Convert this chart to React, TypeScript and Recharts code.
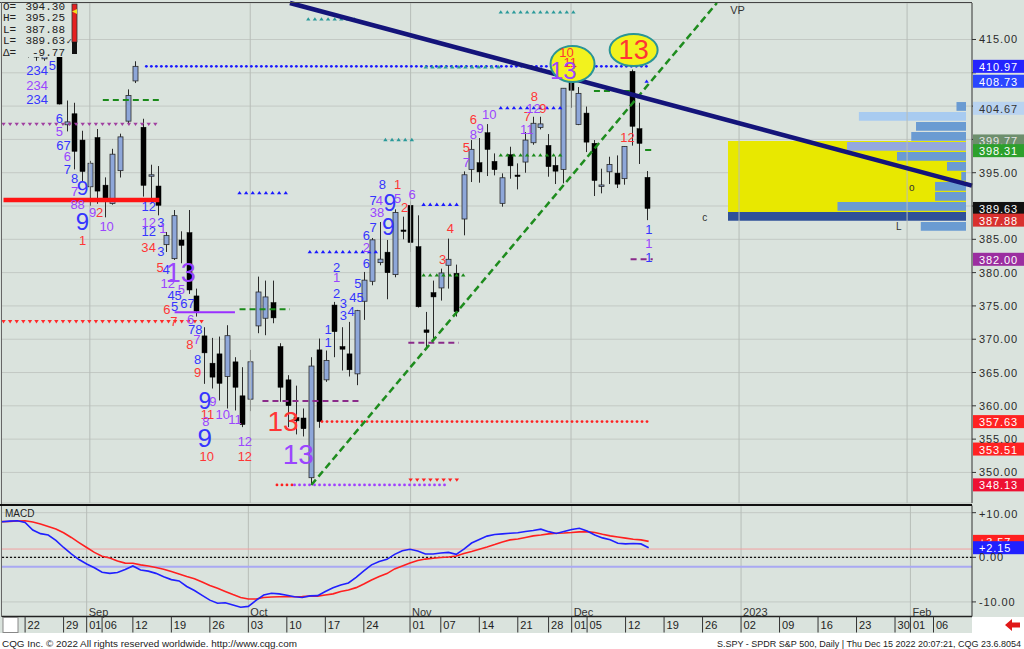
import { Bar, CartesianGrid, ComposedChart, Line, ReferenceArea, ReferenceDot, ReferenceLine, XAxis, YAxis } from 'recharts'

// day index: 0 = Sep 1 2022, negatives are late August, > 73 are future weekdays
const FIRST_INDEX = -11
const LAST_INDEX = 115
const CANDLE_START = -8 // Aug 22

const opens = [
  417.05, 412.9, 412.1, 415.24, 419.39, 402.2, 403.85, 399.9,
  392.89, 400.28, 393.13, 390.37, 395.31, 402.74, 408.78, 401.83, 394.47, 393.0,
  384.2, 382.1, 384.9, 386.0, 376.5, 370.5, 366.4, 367.8, 364.4, 366.6, 361.5,
  361.0, 372.0, 373.15, 375.5, 368.9, 363.9, 358.24, 358.17, 349.21, 368.4,
  363.9, 375.13, 368.9, 367.8, 364.8, 375.7, 378.7, 381.5, 383.07, 379.7, 386.4,
  390.1, 383.9, 371.4, 377.0, 377.7, 381.1, 379.9, 388.05, 395.5, 396.5, 401.0, 396.7, 390.4, 397.7, 394.65, 396.6, 399.5, 401.8, 399.1, 396.1, 395.5,
  408.77, 402.25, 403.95, 399.42, 392.94, 395.14, 394.94, 394.11, 410.22, 401.61, 394.3,
]
const highs = [
  417.2, 415.0, 415.1, 419.56, 419.96, 405.84, 405.5, 401.3,
  396.78, 401.56, 394.3, 398.59, 400.86, 407.51, 411.73, 403.1, 396.2, 396.0,
  386.1, 389.4, 386.2, 389.4, 377.6, 371.8, 370.2, 370.4, 372.1, 367.3, 365.8,
  368.4, 379.4, 378.8, 378.8, 369.4, 364.6, 363.03, 359.6, 367.3, 370.1,
  368.3, 375.6, 371.8, 372.6, 374.4, 380.1, 385.2, 387.6, 384.9, 389.5, 388.4,
  390.7, 388.6, 374.1, 378.8, 380.6, 385.1, 381.2, 395.2, 399.9, 400.2, 402.3, 397.9, 394.9, 398.9, 396.4, 401.1, 403.4, 403.4, 400.8, 397.4, 407.7,
  410.0, 407.86, 404.93, 399.9, 395.6, 397.4, 397.6, 399.0, 410.49, 405.5, 395.25,
]
const lows = [
  412.3, 411.8, 411.8, 413.9, 405.25, 401.2, 395.5, 393.6,
  390.04, 390.33, 388.3, 390.2, 394.28, 402.46, 408.46, 391.41, 390.4, 388.6,
  383.1, 381.9, 381.4, 376.8, 373.4, 363.3, 362.6, 360.8, 359.6, 359.3, 356.8,
  359.2, 370.9, 370.6, 372.4, 360.6, 356.8, 355.71, 355.4, 348.11, 356.7,
  363.6, 367.3, 365.3, 364.4, 363.1, 372.9, 378.1, 381.1, 376.0, 379.3, 385.0,
  383.1, 374.76, 368.79, 370.1, 375.8, 377.6, 373.4, 385.6, 393.6, 393.5, 394.5, 394.6, 389.9, 394.1, 392.5, 395.0, 399.2, 401.5, 394.4, 393.3, 393.4,
  404.75, 402.14, 398.1, 391.5, 391.9, 393.3, 392.7, 393.2, 399.07, 396.31, 387.88,
]
const closes = [
  413.35, 412.35, 413.67, 419.51, 405.31, 402.63, 398.21, 395.18,
  396.42, 392.24, 390.76, 397.78, 400.38, 406.6, 410.97, 393.1, 394.69, 390.1,
  385.56, 388.55, 384.09, 377.39, 374.22, 367.95, 364.31, 363.38, 370.53, 362.79, 357.18,
  366.61, 377.09, 376.35, 373.2, 362.79, 360.02, 357.74, 356.56, 365.97, 357.63,
  366.82, 371.13, 368.5, 365.41, 374.29, 378.87, 384.92, 382.02, 379.98, 389.02, 386.21,
  384.52, 374.87, 371.01, 376.35, 379.95, 382.0, 374.13, 394.69, 398.51, 395.12, 398.49, 395.45, 394.24, 396.03, 394.59, 399.9, 402.42, 402.33, 395.91, 395.23, 407.68,
  407.38, 406.91, 399.59, 393.83, 393.16, 396.24, 393.28, 398.95, 401.97, 399.4, 389.63,
]

// MACD pane, starting Aug 17
const macdLine = [
  7.98, 8.1, 8.2, 7.8, 6.1, 5.3, 5.0, 3.8, 2.2, 0.75, -0.5,
  -1.5, -2.35, -3.35, -3.6, -3.4, -2.75, -1.95, -2.85, -3.1, -3.6, -4.35, -5.0, -5.3, -6.55, -7.45, -8.55, -9.6, -10.3, -10.2, -10.7, -11.2,
  -11.0, -9.65, -8.45, -8.05, -8.2, -8.5, -8.85, -9.0, -8.65, -8.6, -7.65, -6.85, -6.2, -5.75, -4.5, -3.05, -1.7, -0.95, -0.45, 0.65, 1.45,
  1.8, 1.4, 0.75, 0.75, 0.95, 1.1, 0.65, 1.85, 3.2, 4.0, 4.75, 5.1, 5.25, 5.4, 5.5, 5.8, 6.0, 6.3, 5.75, 5.35, 5.8,
  6.25, 6.5, 5.9, 5.0, 4.35, 3.95, 3.15, 3.0, 3.1, 3.0, 2.15,
]
const signalLine = [
  8.0, 8.05, 8.15, 8.2, 7.9, 7.45, 6.9, 6.35, 5.5, 4.45, 3.3,
  2.2, 1.1, 0.25, -0.15, -0.85, -1.3, -1.35, -1.7, -1.95, -2.3, -2.7, -3.2, -3.75, -4.3, -4.8, -5.55, -6.3, -6.95, -7.65, -8.35, -9.0,
  -9.35, -9.35, -9.0, -8.9, -8.85, -8.85, -8.85, -8.8, -8.7, -8.7, -8.45, -8.2, -7.65, -7.35, -6.8, -6.0, -5.1, -4.3, -3.65, -2.6, -1.95,
  -1.3, -0.7, -0.4, -0.2, -0.05, 0.05, 0.3, 0.85, 1.3, 1.8, 2.3, 2.85, 3.45, 3.9, 4.1, 4.45, 4.8, 5.0, 5.25, 5.4, 5.45,
  5.55, 5.7, 5.75, 5.55, 5.15, 4.8, 4.55, 4.3, 4.05, 3.9, 3.57,
]

const dateTicks = [-8, -3, 0, 2, 6, 11, 16, 21, 26, 31, 36, 42, 46, 51, 56, 60, 63, 65, 70, 75, 80, 85, 90, 95, 100, 105, 107, 110]
const dateLabels = ['22', '29', '01', '06', '12', '19', '26', '03', '10', '17', '24', '01', '07', '14', '21', '28', '01', '05', '12', '19', '26', '02', '09', '16', '23', '30', '01', '06']
const monthStarts = [0, 21, 42, 63, 85, 107]
const monthNames = ['Sep', 'Oct', 'Nov', 'Dec', '2023', 'Feb']

const priceTicks = [350, 355, 360, 365, 370, 375, 380, 385, 390, 395, 400, 405, 410, 415]
const macdTicks = [-10, -5, 0, 5, 10]

// volume profile bins (price centre) and relative volume
const vpPrices = [386.95, 388.45, 389.95, 391.45, 392.95, 394.45, 395.95, 397.45, 398.95, 400.45, 401.95, 403.45, 404.95]
const vpVolumes = [19, 100, 54, 13, 13, 2, 8, 29, 50, 23, 21, 45, 4]

const B = '#3535ff'
const P = '#9b45ff'
const R = '#ff3535'

// TD sequential counts: [day index, price, text, colour, font size]
const tdMarks: [number, number, string, string, number][] = [
  [-6.9, 410.42, '234', B, 13], [-4.9, 411.17, '5', B, 13], [-6.9, 408.02, '234', P, 13], [-6.9, 405.92, '234', B, 13],
  [-4.0, 403.21, '6', B, 13], [-4.0, 401.26, '5', P, 13], [-3.45, 399.16, '67', B, 13], [-2.93, 397.36, '6', P, 13],
  [-2.93, 395.41, '7', B, 13], [-2.0, 394.2, '8', B, 13], [-0.96, 392.85, '9', B, 21], [-2.0, 392.25, '7', P, 13],
  [-1.6, 390.3, '88', P, 13], [-0.96, 387.6, '9', B, 24], [0.35, 389.1, '9', P, 13], [1.27, 389.1, '2', R, 13],
  [2.2, 386.85, '10', P, 13], [-0.96, 384.75, '1', R, 13],
  [7.7, 390.0, '12', B, 13], [7.7, 387.45, '12', P, 13], [9.3, 387.45, '3', B, 13], [7.7, 386.1, '12', B, 13], [9.55, 386.55, '1', P, 13],
  [7.2, 383.7, '3', R, 13], [8.2, 383.7, '4', R, 13], [9.3, 383.2, '3', B, 13], [9.2, 380.7, '5', R, 13], [10.0, 380.4, '4', B, 13],
  [11.9, 379.9, '13', P, 27], [10.2, 378.4, '12', P, 13], [12.0, 377.5, '5', P, 13], [11.1, 376.6, '45', B, 13], [12.8, 375.4, '67', B, 13],
  [10.1, 374.4, '6', R, 13], [11.1, 374.9, '5', B, 13], [11.0, 372.6, '7', R, 13], [13.2, 372.9, '6', P, 13], [13.8, 371.4, '78', B, 13],
  [14.0, 369.9, '7', P, 13], [13.1, 369.2, '8', R, 13], [14.1, 366.9, '8', B, 13], [14.1, 365.0, '9', R, 13],
  [15.05, 360.7, '9', B, 23], [16.1, 360.7, '9', P, 13], [15.4, 358.7, '11', R, 13], [17.4, 358.7, '10', P, 13], [19.0, 358.0, '11', P, 13],
  [15.2, 357.6, '8', P, 13], [15.05, 355.2, '9', B, 26], [20.3, 354.6, '12', P, 13], [15.3, 352.4, '10', R, 13], [20.3, 352.4, '12', R, 13],
  [25.3, 357.7, '13', R, 28], [27.3, 352.7, '13', P, 28],
  [31.2, 371.4, '1', B, 13], [31.2, 369.5, '1', B, 13], [32.3, 380.8, '2', B, 13], [32.3, 379.2, '1', P, 13], [32.3, 376.9, '2', B, 13],
  [33.2, 375.4, '3', B, 13], [33.2, 373.5, '3', B, 13], [34.2, 374.1, '4', B, 13], [34.9, 376.2, '45', B, 13], [35.1, 378.4, '5', B, 13],
  [36.2, 385.6, '6', B, 13], [36.2, 383.7, '2', P, 13], [36.2, 381.4, '6', B, 13], [37.1, 386.7, '7', B, 13], [37.6, 389.0, '38', P, 13],
  [37.1, 390.8, '7', B, 13], [37.9, 390.8, '4', P, 13], [38.3, 393.2, '8', B, 13], [39.3, 390.5, '9', B, 23], [39.1, 386.9, '9', B, 23],
  [40.3, 391.2, '5', P, 13], [40.3, 393.2, '1', R, 13], [41.2, 389.85, '2', R, 13], [42.2, 391.8, '6', P, 13],
  [47.2, 386.55, '4', R, 13], [46.2, 382.0, '3', R, 13],
  [49.3, 398.85, '5', R, 13], [49.3, 396.6, '7', P, 13], [50.2, 403.05, '6', R, 13], [50.2, 400.8, '8', P, 13], [51.1, 401.7, '9', P, 13],
  [52.3, 403.8, '10', P, 13], [58.2, 406.4, '8', R, 13], [57.3, 403.4, '7', R, 13], [58.1, 404.6, '12', P, 13], [59.3, 404.6, '9', R, 13],
  [57.2, 401.55, '11', P, 13], [62.4, 413.1, '10', R, 13], [62.9, 411.6, '11', R, 13], [62.0, 410.4, '13', P, 24],
  [71.2, 413.42, '13', R, 27], [70.4, 400.35, '12', R, 13],
  [73.2, 386.4, '1', B, 13], [73.2, 384.3, '1', P, 13], [73.2, 382.3, '1', B, 13],
]

// support / resistance levels: [price, from index, to index, kind, colour]
const levels: [number, number, number, string, string][] = [
  [402.27, -11.3, 9.1, 'down', '#a040a0'],
  [405.92, 1.7, 9.1, 'dash', '#1a8a1a'],
  [410.97, 7.4, 73.2, 'dot', '#1a1aff'],
  [410.9, 44, 54, 'up', '#2a9a9a'],
  [374.04, 11.1, 19, 'solid', '#9a30ff'],
  [372.63, -11.3, 14.8, 'down', '#ff2a2a'],
  [374.49, 19.6, 26.2, 'dash', '#1a8a1a'],
  [392.0, 19.6, 26.2, 'up', '#1a1aff'],
  [383.14, 28.8, 37.8, 'up', '#1a1aff'],
  [360.72, 22.6, 35.4, 'dash', '#8a2a8a'],
  [357.63, 30.4, 73.2, 'dot', '#ff2020'],
  [348.13, 24.5, 26.5, 'dot', '#ff2020'],
  [348.13, 26.8, 47, 'dot', '#a040ff'],
  [348.86, 42, 48.3, 'down', '#ff2020'],
  [369.47, 41.7, 48.3, 'dash', '#8a2a8a'],
  [379.64, 43.7, 49.4, 'up', '#1a8a1a'],
  [390.25, 43.7, 48.8, 'up', '#1a1aff'],
  [418.08, 28.6, 34.9, 'up', '#2a9a9a'],
  [419.13, 53.8, 63.3, 'up', '#2a9a9a'],
  [399.98, 38.7, 42.2, 'up', '#2a9a9a'],
  [404.76, 53.8, 62, 'up', '#1a1aff'],
  [397.66, 53.8, 62, 'up', '#1a8a1a'],
  [407.27, 66, 71.1, 'dash', '#1a8a1a'],
  [398.41, 72.7, 73.5, 'solid', '#1a8a1a'],
  [408.73, 72.9, 73.1, 'up', '#1a1aff'],
  [382.0, 70.8, 73.7, 'dash', '#8a2a8a'],
  [390.9, -11.3, 9.1, 'thick', '#ff1414'],
]

const priceTags: [number, string, string][] = [
  [410.97, '#2424ff', '#fff'], [408.73, '#2a46ff', '#fff'], [404.67, '#b9d3f0', '#333'],
  [399.77, '#6d8f6d', '#e6e6e6'], [398.31, '#2ca02c', '#fff'], [389.63, '#111', '#fff'],
  [387.88, '#d8302e', '#fff'], [382.0, '#9b2ea0', '#fff'], [357.63, '#ff2222', '#fff'],
  [353.51, '#ff2222', '#fff'], [348.13, '#ee1133', '#fff'],
]

const BG = '#dae3dd'
const FONT = 'Liberation Sans, Arial, sans-serif'

const rows = [] as any[]
for (let i = FIRST_INDEX; i <= LAST_INDEX; i++) {
  const k = i - CANDLE_START
  const m = i - FIRST_INDEX
  const has = k >= 0 && k < closes.length
  rows.push({
    i,
    range: has ? [lows[k], highs[k]] : null,
    open: has ? opens[k] : null,
    close: has ? closes[k] : null,
    macd: m < macdLine.length ? macdLine[m] : null,
    signal: m < signalLine.length ? signalLine[m] : null,
  })
}

function Candle(props: any) {
  const { x, y, width, height, payload } = props
  if (!payload || !payload.range) return <g />
  const [low, high] = payload.range
  const top = Math.min(y, y + height)
  const h = Math.abs(height)
  const py = (v: number) => (high === low ? top : top + ((high - v) / (high - low)) * h)
  const cx = Math.round(x + width / 2) + 0.5
  const up = payload.close >= payload.open
  const yo = py(payload.open)
  const yc = py(payload.close)
  const bt = Math.min(yo, yc)
  const bh = Math.max(1.5, Math.abs(yo - yc))
  return (
    <g>
      <line x1={cx} x2={cx} y1={top} y2={top + h} stroke="#2a2a2a" strokeWidth={1} />
      <rect x={cx - 2.5} y={bt} width={5} height={bh} fill={up ? '#8ea7d9' : '#000'} stroke={up ? '#2a2a2a' : '#000'} strokeWidth={up ? 0.8 : 0.5} />
    </g>
  )
}

function levelShape(kind: string, color: string) {
  return (props: any) => {
    const { x1, y1, x2 } = props
    if (kind === 'solid' || kind === 'thick') {
      return <line x1={x1} x2={x2} y1={y1} y2={y1} stroke={color} strokeWidth={kind === 'thick' ? 4.5 : 2} />
    }
    if (kind === 'dash') {
      return <line x1={x1} x2={x2} y1={y1} y2={y1} stroke={color} strokeWidth={2} strokeDasharray="6 4" />
    }
    const step = kind === 'dot' ? 5 : 6.6
    const marks = []
    for (let x = x1; x <= x2 + 0.1; x += step) {
      if (kind === 'dot') marks.push(<circle key={x} cx={x} cy={y1} r={1.4} fill={color} />)
      else if (kind === 'up') marks.push(<path key={x} d={`M${x - 2.2},${y1 + 1.6}L${x},${y1 - 1.8}L${x + 2.2},${y1 + 1.6}Z`} fill={color} />)
      else marks.push(<path key={x} d={`M${x - 2.2},${y1 - 1.6}L${x},${y1 + 1.8}L${x + 2.2},${y1 - 1.6}Z`} fill={color} />)
    }
    return <g>{marks}</g>
  }
}

const textShape = (t: string, color: string, size: number) => (p: any) => (
  <text x={p.cx} y={p.cy} textAnchor="middle" dominantBaseline="central" fill={color} fontSize={size} fontFamily={FONT}>
    {t}
  </text>
)

const ellipseShape = (rx: number, ry: number) => (p: any) => (
  <ellipse cx={p.cx} cy={p.cy} rx={rx} ry={ry} fill="#f2f21e" stroke="#2a9595" strokeWidth={2} />
)

const tagShape = (label: string, bg: string, fg: string) => (p: any) => (
  <g>
    <rect x={p.cx + 1} y={p.cy - 6.5} width={51} height={13} fill={bg} />
    <text x={p.cx + 7} y={p.cy + 0.5} dominantBaseline="central" fill={fg} fontSize={11} fontFamily={FONT} letterSpacing={0.9}>
      {label}
    </text>
  </g>
)

// price labels hidden behind a coloured price tag are not drawn
function PriceTick(props: any) {
  const { x, y, payload } = props
  if (priceTags.some(([v]) => Math.abs(v - payload.value) < 1.3)) return <g />
  return (
    <text x={x} y={y} dominantBaseline="central" fill="#2a2a2a" fontSize={11} fontFamily={FONT} letterSpacing={0.9}>
      {payload.value.toFixed(2)}
    </text>
  )
}

function MacdTick(props: any) {
  const { x, y, payload } = props
  const v = payload.value
  return (
    <text x={x} y={y} dominantBaseline="central" fill="#2a2a2a" fontSize={11} fontFamily={FONT} letterSpacing={0.9}>
      {(v > 0 ? '+' : '') + v.toFixed(2)}
    </text>
  )
}

function DateTick(props: any) {
  const { x, y, payload } = props
  const idx = dateTicks.indexOf(payload.value)
  const m = monthStarts.indexOf(payload.value)
  return (
    <g>
      <line x1={x} x2={x} y1={y} y2={y + 16} stroke="#333" />
      <text x={x + 2.5} y={y + 8.5} dominantBaseline="central" fill="#222" fontSize={11} fontFamily={FONT}>
        {dateLabels[idx]}
      </text>
      {m >= 0 && (
        <text x={x + 2} y={y - 4.5} dominantBaseline="central" fill="#333" fontSize={11} fontFamily={FONT}>
          {monthNames[m]}
        </text>
      )}
    </g>
  )
}

export default function App() {
  return (
    <div style={{ position: 'relative', width: 1024, height: 649, background: '#fff', overflow: 'hidden' }}>
      <style>{'body{margin:0}'}</style>
      <div style={{ position: 'absolute', left: 0, top: 0, width: 1024, height: 617, background: BG }} />
      <div style={{ position: 'absolute', left: 0, top: 617, width: 972, height: 16, background: BG }} />

      <div style={{ position: 'absolute', left: 0, top: 0 }}>
        <ComposedChart width={1024} height={505} data={rows} margin={{ top: 3, right: 0, bottom: 2, left: 2 }}>
          <CartesianGrid vertical={false} stroke="#c3c9c4" />
          <XAxis dataKey="i" hide />
          <XAxis xAxisId="n" type="number" dataKey="i" domain={[-11.5, 115.5]} hide allowDataOverflow />
          <XAxis xAxisId="vp" type="number" dataKey="i" domain={[-2.52, 405.04]} reversed hide allowDataOverflow />
          <YAxis
            orientation="right"
            width={52}
            domain={[345.41, 420.48]}
            ticks={priceTicks}
            allowDataOverflow
            tick={PriceTick}
            tickSize={4}
            tickMargin={3}
            axisLine={{ stroke: '#333' }}
            tickLine={{ stroke: '#333' }}
          />
          {monthStarts.map((i) => (
            <ReferenceLine key={`m${i}`} x={i} stroke="#b7bdb8" />
          ))}

          <ReferenceArea xAxisId="vp" x1={0} x2={100} y1={389.1} y2={399.76} fill="#e8e800" fillOpacity={1} stroke="none" />
          {vpPrices.map((p, k) => (
            <ReferenceArea
              key={`vp${k}`}
              xAxisId="vp"
              x1={0}
              x2={vpVolumes[k]}
              y1={p - 0.66}
              y2={p + 0.66}
              fill={vpVolumes[k] === 100 ? '#2f5199' : k === 8 ? '#93a8de' : k === 11 ? '#a8cbf0' : '#6a9bd2'}
              fillOpacity={1}
              stroke="none"
            />
          ))}

          {levels.map(([p, a, b, kind, color], k) => (
            <ReferenceLine
              key={`l${k}`}
              xAxisId="n"
              segment={[{ x: a, y: p }, { x: b, y: p }]}
              ifOverflow="visible"
              shape={levelShape(kind, color)}
            />
          ))}

          <ReferenceDot xAxisId="n" x={63.2} y={411.32} r={0} ifOverflow="visible" shape={ellipseShape(22, 18)} />
          <ReferenceDot xAxisId="n" x={71.2} y={413.42} r={0} ifOverflow="visible" shape={ellipseShape(24, 16)} />

          <Bar dataKey="range" barSize={5} isAnimationActive={false} shape={Candle} />

          <ReferenceLine
            xAxisId="n"
            segment={[{ x: 29, y: 348.11 }, { x: 82.1, y: 420.48 }]}
            ifOverflow="visible"
            stroke="#1e8c1e"
            strokeWidth={2.5}
            strokeDasharray="7 4"
          />
          <ReferenceLine
            xAxisId="n"
            segment={[{ x: 26.2, y: 420.48 }, { x: 115.5, y: 393.06 }]}
            ifOverflow="visible"
            stroke="#14147a"
            strokeWidth={4.5}
          />

          {tdMarks.map(([i, p, t, c, s], k) => (
            <ReferenceDot key={`td${k}`} xAxisId="n" x={i} y={p} r={0} ifOverflow="visible" shape={textShape(t, c, s)} />
          ))}

          <ReferenceDot xAxisId="n" x={84.8} y={419.43} r={0} shape={textShape('VP', '#333', 11)} />
          <ReferenceDot xAxisId="n" x={80.5} y={388.35} r={0} shape={textShape('c', '#333', 10)} />
          <ReferenceDot xAxisId="n" x={107.6} y={392.85} r={0} shape={textShape('o', '#333', 10)} />
          <ReferenceDot xAxisId="n" x={105.9} y={386.85} r={0} shape={textShape('L', '#333', 10)} />

          {priceTags.map(([v, bg, fg]) => (
            <ReferenceDot key={`t${v}`} xAxisId="n" x={115.5} y={v} r={0} ifOverflow="visible" shape={tagShape(v.toFixed(2), bg, fg)} />
          ))}
        </ComposedChart>
      </div>

      <div style={{ position: 'absolute', left: 0, top: 505 }}>
        <ComposedChart width={1024} height={128} data={rows} margin={{ top: 0.5, right: 0, bottom: 0, left: 2 }}>
          <CartesianGrid vertical={false} stroke="#c3c9c4" />
          <XAxis
            dataKey="i"
            ticks={dateTicks}
            interval={0}
            height={16.5}
            tick={DateTick}
            tickSize={0}
            tickMargin={0}
            axisLine={{ stroke: '#222', strokeWidth: 1.5 }}
          />
          <YAxis
            orientation="right"
            width={52}
            domain={[-13.27, 11.61]}
            ticks={macdTicks}
            tick={MacdTick}
            tickSize={4}
            tickMargin={3}
            axisLine={{ stroke: '#333' }}
            tickLine={{ stroke: '#333' }}
          />
          {monthStarts.map((i) => (
            <ReferenceLine key={`mm${i}`} x={i} stroke="#b7bdb8" />
          ))}
          <ReferenceLine y={1.85} stroke="#f2a0a0" strokeWidth={1} />
          <ReferenceLine y={-2.1} stroke="#a9a9f2" strokeWidth={2} />
          <ReferenceLine y={0} stroke="#111" strokeWidth={1.3} strokeDasharray="2 2" />
          <Line dataKey="signal" stroke="#ff2020" strokeWidth={1.6} dot={false} isAnimationActive={false} />
          <Line dataKey="macd" stroke="#2020ff" strokeWidth={1.6} dot={false} isAnimationActive={false} />
          <ReferenceDot x={73} y={3.57} r={0} ifOverflow="visible" shape={(p: any) => tagShape('+3.57', '#ff2020', '#fff')({ ...p, cx: 972 })} />
          <ReferenceDot x={73} y={2.15} r={0} ifOverflow="visible" shape={(p: any) => tagShape('+2.15', '#2020ff', '#fff')({ ...p, cx: 972 })} />
        </ComposedChart>
      </div>

      {/* frame lines and pane separator */}
      <div style={{ position: 'absolute', left: 0, top: 1.5, width: 972, height: 1.5, background: '#444' }} />
      <div style={{ position: 'absolute', left: 1, top: 2, width: 1, height: 615, background: '#666' }} />
      <div style={{ position: 'absolute', left: 0, top: 503.5, width: 972, height: 2.5, background: '#111' }} />

      <svg style={{ position: 'absolute', left: 0, top: 0 }} width={1024} height={649}>
        <rect x={2} y={3} width={76} height={54} fill={BG} />
        {[
          ['O=', '394.30'],
          ['H=', '395.25'],
          ['L=', '387.88'],
          ['L=', '389.63'],
          ['\u0394=', '-9.77'],
        ].map(([a, b], k) => (
          <g key={a + k} fontFamily="Liberation Mono, DejaVu Sans Mono, monospace" fontSize={11} fill="#222">
            <text x={3} y={6.5 + k * 11.5} dominantBaseline="central">{a}</text>
            <text x={65} y={6.5 + k * 11.5} dominantBaseline="central" textAnchor="end">{b}</text>
          </g>
        ))}
        <text x={66} y={41} dominantBaseline="central" fontSize={8} fill="#222">{'\u2713'}</text>
        <rect x={72} y={4} width={5} height={38} fill="#e52020" stroke="#333" strokeWidth={0.8} />
        <rect x={72} y={42} width={5} height={12} fill="#111" />
        <path d="M77,9 L72,11.5 L77,14 Z" fill="#f0e020" />

        <text x={5} y={513} dominantBaseline="central" fontSize={10} fill="#222" fontFamily={FONT}>MACD</text>

        <rect x={3} y={617.5} width={15} height={15} fill="#fff" stroke="#888" />
        <path d="M1005,625 L1012,619 L1012,622.5 L1020,622.5 L1020,627.5 L1012,627.5 L1012,631 Z" fill="#e01818" />

        <text x={2} y={646.5} fontSize={9} fill="#222" fontFamily={FONT} textLength={295} lengthAdjust="spacingAndGlyphs">
          CQG Inc. © 2022 All rights reserved worldwide. http://www.cqg.com
        </text>
        <text x={1021} y={646.5} textAnchor="end" fontSize={9} fill="#222" fontFamily={FONT} textLength={304} lengthAdjust="spacingAndGlyphs">
          S.SPY - SPDR S&amp;P 500, Daily | Thu Dec 15 2022 20:07:21, CQG 23.6.8054
        </text>
      </svg>
    </div>
  )
}
